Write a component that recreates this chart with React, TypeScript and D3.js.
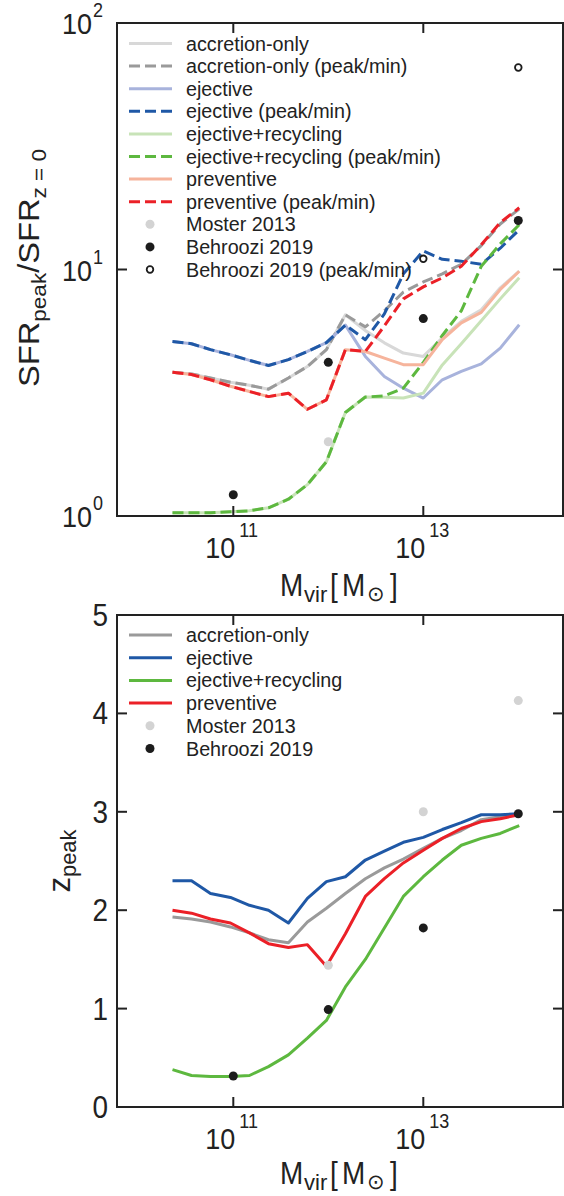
import React from "react";
import * as d3 from "d3";

// ---------- data ----------
const logMass = [10.36, 10.56, 10.76, 10.97, 11.17, 11.37, 11.58, 11.78, 11.98, 12.18, 12.39, 12.59, 12.79, 13.0, 13.2, 13.4, 13.61, 13.81, 14.01];

// top panel: SFR_peak / SFR_z=0
const accretionSolid = [3.83, 3.77, 3.63, 3.49, 3.39, 3.27, 3.63, 4.04, 4.73, 6.55, 5.65, 5.04, 4.58, 4.44, 5.28, 6.16, 6.87, 8.43, 9.84];
const accretionPeak = [3.83, 3.77, 3.63, 3.49, 3.39, 3.27, 3.63, 4.04, 4.73, 6.55, 5.85, 6.8, 8.1, 8.9, 9.6, 10.5, 12.5, 15.3, 17.6];
const ejectiveSolid = [5.1, 5.0, 4.73, 4.51, 4.28, 4.08, 4.31, 4.65, 5.05, 5.95, 4.44, 3.68, 3.3, 3.01, 3.57, 3.86, 4.14, 4.8, 5.97];
const ejectivePeak = [5.1, 5.0, 4.73, 4.51, 4.28, 4.08, 4.31, 4.65, 5.05, 5.95, 5.19, 6.6, 9.6, 11.9, 11.0, 10.8, 10.5, 12.2, 14.5];
const recyclingSolid = [1.03, 1.03, 1.03, 1.04, 1.05, 1.08, 1.17, 1.34, 1.66, 2.63, 3.04, 3.03, 3.01, 3.15, 4.1, 5.0, 6.2, 7.6, 9.25];
const recyclingPeak = [1.03, 1.03, 1.03, 1.04, 1.05, 1.08, 1.17, 1.34, 1.66, 2.63, 3.04, 3.07, 3.3, 4.2, 5.4, 6.8, 10.3, 12.7, 15.2];
const preventiveSolid = [3.83, 3.75, 3.57, 3.36, 3.2, 3.05, 3.15, 2.71, 2.96, 4.73, 4.65, 4.37, 4.11, 4.11, 5.2, 6.07, 6.7, 8.3, 9.84];
const preventivePeak = [3.83, 3.75, 3.57, 3.36, 3.2, 3.05, 3.15, 2.71, 2.96, 4.73, 4.65, 5.9, 7.6, 8.5, 9.25, 10.3, 12.6, 15.5, 17.8];

const mosterTopM = [12];
const mosterTopV = [2.0];
const behrooziTopM = [11, 12, 13, 14];
const behrooziTopV = [1.22, 4.2, 6.32, 15.8];
const behrooziPeakM = [13, 14];
const behrooziPeakV = [11.05, 66];

// bottom panel: z_peak
const accretionZ = [1.93, 1.91, 1.88, 1.83, 1.77, 1.7, 1.67, 1.88, 2.02, 2.17, 2.32, 2.43, 2.52, 2.63, 2.73, 2.81, 2.92, 2.95, 2.97];
const ejectiveZ = [2.3, 2.3, 2.17, 2.13, 2.05, 2.0, 1.87, 2.12, 2.29, 2.34, 2.51, 2.6, 2.69, 2.74, 2.82, 2.89, 2.97, 2.97, 2.98];
const recyclingZ = [0.38, 0.32, 0.31, 0.31, 0.32, 0.41, 0.53, 0.7, 0.88, 1.22, 1.5, 1.82, 2.14, 2.34, 2.51, 2.66, 2.73, 2.78, 2.86];
const preventiveZ = [2.0, 1.97, 1.91, 1.87, 1.77, 1.66, 1.62, 1.65, 1.43, 1.76, 2.14, 2.32, 2.48, 2.61, 2.73, 2.83, 2.9, 2.93, 2.97];

const mosterBotM = [12, 13, 14];
const mosterBotV = [1.44, 3.0, 4.13];
const behrooziBotM = [11, 12, 13, 14];
const behrooziBotV = [0.315, 0.99, 1.82, 2.98];

const xTickExps = [11, 13];
const yTopTickExps = [0, 1, 2];
const yBotTicks = [0, 1, 2, 3, 4, 5];

const topLegend = [
  "accretion-only",
  "accretion-only (peak/min)",
  "ejective",
  "ejective (peak/min)",
  "ejective+recycling",
  "ejective+recycling (peak/min)",
  "preventive",
  "preventive (peak/min)",
  "Moster 2013",
  "Behroozi 2019",
  "Behroozi 2019 (peak/min)",
];
const botLegend = ["accretion-only", "ejective", "ejective+recycling", "preventive", "Moster 2013", "Behroozi 2019"];

// ---------- styles ----------
const C = {
  grayL: "#d8d8d8",
  gray: "#9a9a9a",
  blueL: "#a8b3dc",
  blue: "#1f58a6",
  greenL: "#c8e3b8",
  green: "#5db83f",
  redL: "#f6b49c",
  red: "#eb2027",
  moster: "#d3d3d3",
  beh: "#1c1c1c",
  ink: "#222222",
};
const FONT = "'Liberation Sans', Arial, Helvetica, sans-serif";
const SX = 0.9;

const L = 117, R = 563;
const TOP1 = 23, BOT1 = 516;
const TOP2 = 615, BOT2 = 1107;

const x = d3.scaleLog().domain([Math.pow(10, 11 - 116.3 / 95), Math.pow(10, 13 + 139.7 / 95)]).range([L, R]);
const yTop = d3.scaleLog().domain([1, 100]).range([BOT1, TOP1]);
const yBot = d3.scaleLinear().domain([0, 5]).range([BOT2, TOP2]);

function T({ x: tx, y: ty, anchor = "start", size, children, sx = SX, fill = C.ink }: any) {
  return (
    <text transform={`translate(${tx},${ty}) scale(${sx},1)`} textAnchor={anchor} fontSize={size} fill={fill} fontFamily={FONT}>
      {children}
    </text>
  );
}

function linePath(vals: number[], y: any) {
  const g = d3
    .line<number>()
    .x((_, i) => x(Math.pow(10, logMass[i])))
    .y((v) => y(v));
  return g(vals) || "";
}

function Frame({ top, bot }: { top: number; bot: number }) {
  return <rect x={L} y={top} width={R - L} height={bot - top} fill="none" stroke={C.ink} strokeWidth={2} />;
}

function XTicks({ top, bot }: { top: number; bot: number }) {
  return (
    <g>
      {xTickExps.map((e) => {
        const px = x(Math.pow(10, e));
        return (
          <g key={e}>
            <line x1={px} x2={px} y1={bot} y2={bot - 10} stroke={C.ink} strokeWidth={2} />
            <line x1={px} x2={px} y1={top} y2={top + 10} stroke={C.ink} strokeWidth={2} />
            <T x={px + 2} y={bot + 42} anchor="end" size={30}>10</T>
            <T x={px + 6} y={bot + 21} anchor="start" size={20}>{String(e)}</T>
          </g>
        );
      })}
    </g>
  );
}

function XLabel({ base }: { base: number }) {
  return (
    <g>
      <T x={280} y={base} size={31}>M</T>
      <T x={304} y={base + 6} size={22} sx={1}>vir</T>
      <T x={330} y={base} size={31}>[</T>
      <T x={342} y={base} size={31}>M</T>
      <T x={367} y={base + 5} size={21} sx={1}>⊙</T>
      <T x={390} y={base} size={31}>]</T>
    </g>
  );
}

function App() {
  const topSeries = [
    { vals: accretionSolid, color: C.grayL, dash: null },
    { vals: accretionPeak, color: C.gray, dash: "11,5" },
    { vals: ejectiveSolid, color: C.blueL, dash: null },
    { vals: ejectivePeak, color: C.blue, dash: "11,5" },
    { vals: recyclingSolid, color: C.greenL, dash: null },
    { vals: recyclingPeak, color: C.green, dash: "11,5" },
    { vals: preventiveSolid, color: C.redL, dash: null },
    { vals: preventivePeak, color: C.red, dash: "11,5" },
  ];
  const botSeries = [
    { vals: accretionZ, color: C.gray },
    { vals: ejectiveZ, color: C.blue },
    { vals: recyclingZ, color: C.green },
    { vals: preventiveZ, color: C.red },
  ];
  const topRow = (i: number) => 43.5 + 22.6 * i;
  const botRow = (i: number) => 635 + 22.7 * i;

  return (
    <svg width={564} height={1196} style={{ position: "absolute", left: 0, top: 0, display: "block", background: "#fff" }} fontFamily={FONT}>
      <rect x={0} y={0} width={564} height={1196} fill="#fff" />

      {/* ===== TOP PANEL ===== */}
      <g>
        {topSeries.map((s, i) => (
          <path key={i} d={linePath(s.vals, yTop)} fill="none" stroke={s.color} strokeWidth={3} strokeDasharray={s.dash || undefined} strokeLinejoin="round" />
        ))}
        {mosterTopM.map((m, i) => (
          <circle key={"mt" + i} cx={x(Math.pow(10, m))} cy={yTop(mosterTopV[i])} r={4.5} fill={C.moster} />
        ))}
        {behrooziTopM.map((m, i) => (
          <circle key={"bt" + i} cx={x(Math.pow(10, m))} cy={yTop(behrooziTopV[i])} r={4.5} fill={C.beh} />
        ))}
        {behrooziPeakM.map((m, i) => (
          <circle key={"bp" + i} cx={x(Math.pow(10, m))} cy={yTop(behrooziPeakV[i])} r={3.3} fill="#fff" stroke={C.beh} strokeWidth={1.8} />
        ))}

        {/* legend */}
        {topSeries.map((s, i) => (
          <line key={"tl" + i} x1={129} x2={172} y1={topRow(i)} y2={topRow(i)} stroke={s.color} strokeWidth={3} strokeDasharray={s.dash || undefined} />
        ))}
        <circle cx={150} cy={topRow(8)} r={4.5} fill={C.moster} />
        <circle cx={150} cy={topRow(9)} r={4.5} fill={C.beh} />
        <circle cx={150} cy={topRow(10)} r={3.3} fill="#fff" stroke={C.beh} strokeWidth={1.8} />
        {topLegend.map((t, i) => (
          <T key={"tt" + i} x={186} y={topRow(i) + 7} size={21} sx={0.94}>{t}</T>
        ))}

        <Frame top={TOP1} bot={BOT1} />
        <XTicks top={TOP1} bot={BOT1} />
        {yTopTickExps.map((e) => {
          const py = yTop(Math.pow(10, e));
          return (
            <g key={e}>
              <line x1={L} x2={L + 10} y1={py} y2={py} stroke={C.ink} strokeWidth={2} />
              <line x1={R} x2={R - 10} y1={py} y2={py} stroke={C.ink} strokeWidth={2} />
              <T x={92} y={py + 11} anchor="end" size={30}>10</T>
              <T x={93} y={py - 6} anchor="start" size={20}>{String(e)}</T>
            </g>
          );
        })}
        <XLabel base={596} />
        <text transform={`translate(39,268) rotate(-90)`} textAnchor="middle" fontSize={29} fill={C.ink} fontFamily={FONT} textLength={238} lengthAdjust="spacingAndGlyphs">
          SFR
          <tspan fontSize={20} dy={7}>peak</tspan>
          <tspan fontSize={29} dy={-7}>/SFR</tspan>
          <tspan fontSize={20} dy={7}>z = 0</tspan>
        </text>
      </g>

      {/* ===== BOTTOM PANEL ===== */}
      <g>
        {botSeries.map((s, i) => (
          <path key={i} d={linePath(s.vals, yBot)} fill="none" stroke={s.color} strokeWidth={3} strokeLinejoin="round" />
        ))}
        {mosterBotM.map((m, i) => (
          <circle key={"mb" + i} cx={x(Math.pow(10, m))} cy={yBot(mosterBotV[i])} r={4.5} fill={C.moster} />
        ))}
        {behrooziBotM.map((m, i) => (
          <circle key={"bb" + i} cx={x(Math.pow(10, m))} cy={yBot(behrooziBotV[i])} r={4.5} fill={C.beh} />
        ))}

        {botSeries.map((s, i) => (
          <line key={"bl" + i} x1={129} x2={172} y1={botRow(i)} y2={botRow(i)} stroke={s.color} strokeWidth={3} />
        ))}
        <circle cx={150} cy={botRow(4)} r={4.5} fill={C.moster} />
        <circle cx={150} cy={botRow(5)} r={4.5} fill={C.beh} />
        {botLegend.map((t, i) => (
          <T key={"bt" + i} x={186} y={botRow(i) + 7} size={21} sx={0.94}>{t}</T>
        ))}

        <Frame top={TOP2} bot={BOT2} />
        <XTicks top={TOP2} bot={BOT2} />
        {yBotTicks.map((v) => {
          const py = yBot(v);
          return (
            <g key={v}>
              <line x1={L} x2={L + 10} y1={py} y2={py} stroke={C.ink} strokeWidth={2} />
              <line x1={R} x2={R - 10} y1={py} y2={py} stroke={C.ink} strokeWidth={2} />
              <T x={108} y={py + 11} anchor="end" size={31}>{String(v)}</T>
            </g>
          );
        })}
        <XLabel base={1184} />
        <text transform={`translate(70,861) rotate(-90)`} textAnchor="middle" fontSize={31} fill={C.ink} fontFamily={FONT}>
          z
          <tspan fontSize={22} dy={6}>peak</tspan>
        </text>
      </g>
    </svg>
  );
}

export default App;
